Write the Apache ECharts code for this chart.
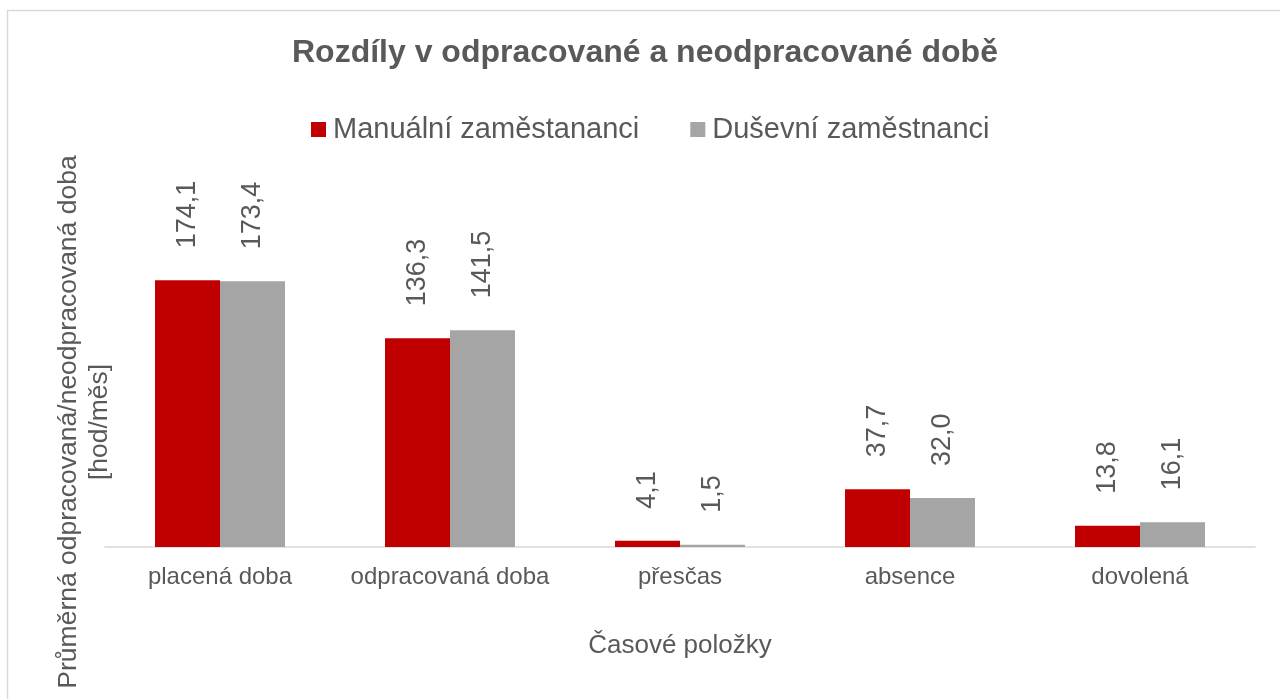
<!DOCTYPE html>
<html>
<head>
<meta charset="utf-8">
<script src="https://cdn.jsdelivr.net/npm/echarts@6/dist/echarts.min.js"></script>
<style>
  html, body { margin: 0; padding: 0; background: #fff; }
  #chart { width: 1280px; height: 699px; }
</style>
</head>
<body>
<div id="chart"></div>
<script>
  // data
  const categories = ['placená doba', 'odpracovaná doba', 'přesčas', 'absence', 'dovolená']
  const manualni = [174.1, 136.3, 4.1, 37.7, 13.8]
  const dusevni = [173.4, 141.5, 1.5, 32.0, 16.1]
  const seriesNames = ['Manuální zaměstananci', 'Duševní zaměstnanci']

  const font = '"Liberation Sans", Arial, sans-serif'
  const textColor = '#595959'

  const fmt = (p) => p.value.toFixed(1).replace('.', ',')

  const barLabel = {
    show: true,
    position: 'top',
    distance: 32,
    rotate: 90,
    align: 'left',
    verticalAlign: 'middle',
    formatter: fmt,
    color: textColor,
    fontSize: 27,
    fontFamily: font
  }

  let chart = echarts.init(document.getElementById('chart'))
  let option = {
    backgroundColor: '#fff',
    animation: false,
    title: {
      text: 'Rozdíly v odpracované a neodpracované době',
      left: 292,
      top: 37,
      padding: 0,
      textStyle: {
        color: textColor,
        fontSize: 32,
        fontWeight: 'bold',
        fontFamily: font
      }
    },
    legend: {
      left: 311,
      top: 115,
      padding: 0,
      itemWidth: 15,
      itemHeight: 15,
      itemGap: 51,
      icon: 'rect',
      textStyle: {
        color: textColor,
        fontSize: 29,
        fontFamily: font,
        padding: [0, 0, 0, 2]
      },
      data: seriesNames
    },
    grid: {
      left: 105,
      right: 25,
      top: 240.6,
      bottom: 152
    },
    xAxis: {
      type: 'category',
      data: categories,
      name: 'Časové položky',
      nameLocation: 'middle',
      nameGap: 86,
      nameTextStyle: {
        color: textColor,
        fontSize: 26,
        fontFamily: font
      },
      axisLine: { lineStyle: { color: '#d9d9d9', width: 1.5 } },
      axisTick: { show: false },
      axisLabel: {
        interval: 0,
        color: textColor,
        fontSize: 24,
        fontFamily: font,
        margin: 18
      }
    },
    yAxis: {
      type: 'value',
      min: 0,
      max: 200,
      show: false,
      splitLine: { show: false }
    },
    graphic: [
      {
        type: 'rect',
        silent: true,
        shape: { x: 7.5, y: 10.5, width: 1290, height: 700 },
        style: { fill: 'none', stroke: '#d9d9d9', lineWidth: 1.5 }
      },
      {
        type: 'text',
        silent: true,
        x: 84,
        y: 422,
        rotation: Math.PI / 2,
        style: {
          text: 'Průměrná odpracovaná/neodpracovaná doba\n[hod/měs]',
          fill: textColor,
          fontSize: 26.5,
          fontFamily: font,
          lineHeight: 31,
          align: 'center',
          verticalAlign: 'middle'
        }
      }
    ],
    series: [
      {
        name: seriesNames[0],
        type: 'bar',
        data: manualni,
        barWidth: 65,
        barGap: '0%',
        itemStyle: { color: '#c00000' },
        label: barLabel
      },
      {
        name: seriesNames[1],
        type: 'bar',
        data: dusevni,
        barWidth: 65,
        barGap: '0%',
        itemStyle: { color: '#a5a5a5' },
        label: barLabel
      }
    ]
  }
  chart.setOption(option)
</script>
</body>
</html>
